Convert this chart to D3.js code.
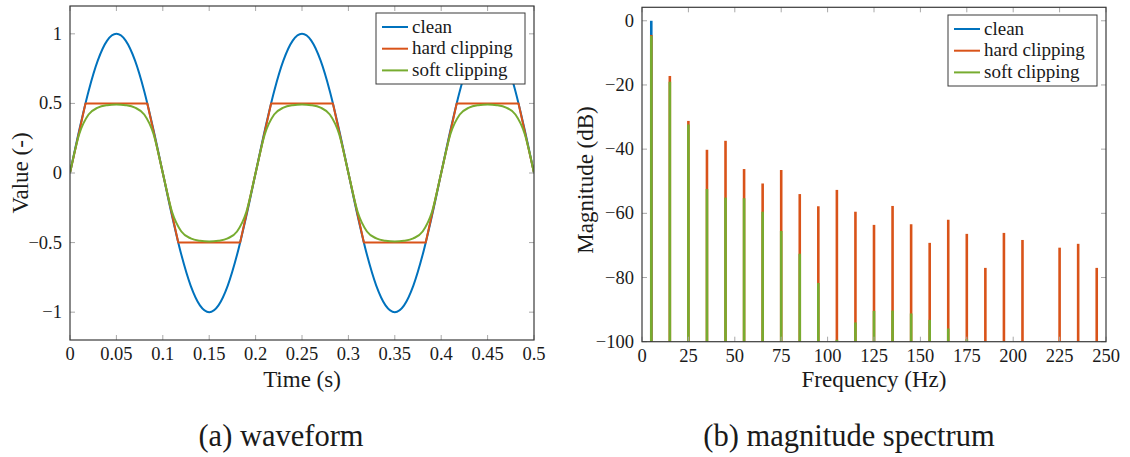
<!DOCTYPE html>
<html>
<head>
<meta charset="utf-8">
<script src="https://cdn.jsdelivr.net/npm/d3@7"></script>
<style>
  body { margin: 0; background: #fff; }
  svg { display: block; }
</style>
</head>
<body>
<svg id="fig" width="1130" height="457"></svg>
<script>
// ---- series ----
const seriesNames = ["clean", "hard clipping", "soft clipping"];
const seriesColors = ["#0072BD", "#D95319", "#77AC30"];

// waveform, sampled every 10 ms
const sampleTimes = [0, 0.01, 0.02, 0.03, 0.04, 0.05, 0.06, 0.07, 0.08, 0.09,
  0.1, 0.11, 0.12, 0.13, 0.14, 0.15, 0.16, 0.17, 0.18, 0.19,
  0.2, 0.21, 0.22, 0.23, 0.24, 0.25, 0.26, 0.27, 0.28, 0.29,
  0.3, 0.31, 0.32, 0.33, 0.34, 0.35, 0.36, 0.37, 0.38, 0.39,
  0.4, 0.41, 0.42, 0.43, 0.44, 0.45, 0.46, 0.47, 0.48, 0.49, 0.5];
const cleanWave = [0, 0.309, 0.588, 0.809, 0.951, 1, 0.951, 0.809, 0.588, 0.309,
  0, -0.309, -0.588, -0.809, -0.951, -1, -0.951, -0.809, -0.588, -0.309,
  0, 0.309, 0.588, 0.809, 0.951, 1, 0.951, 0.809, 0.588, 0.309,
  0, -0.309, -0.588, -0.809, -0.951, -1, -0.951, -0.809, -0.588, -0.309,
  0, 0.309, 0.588, 0.809, 0.951, 1, 0.951, 0.809, 0.588, 0.309, 0];
const softWave = [0, 0.28, 0.42, 0.47, 0.487, 0.492, 0.487, 0.47, 0.42, 0.28,
  0, -0.28, -0.42, -0.47, -0.487, -0.492, -0.487, -0.47, -0.42, -0.28,
  0, 0.28, 0.42, 0.47, 0.487, 0.492, 0.487, 0.47, 0.42, 0.28,
  0, -0.28, -0.42, -0.47, -0.487, -0.492, -0.487, -0.47, -0.42, -0.28,
  0, 0.28, 0.42, 0.47, 0.487, 0.492, 0.487, 0.47, 0.42, 0.28, 0];
// hard clipping corners
const hardTimes = [0, 0.0167, 0.0833, 0.1167, 0.1833, 0.2167, 0.2833, 0.3167, 0.3833, 0.4167, 0.4833, 0.5];
const hardWave = [0, 0.5, 0.5, -0.5, -0.5, 0.5, 0.5, -0.5, -0.5, 0.5, 0.5, 0];

const timeTicks = [0, 0.05, 0.1, 0.15, 0.2, 0.25, 0.3, 0.35, 0.4, 0.45, 0.5];
const valueTicks = [-1, -0.5, 0, 0.5, 1];

// magnitude spectrum at the odd harmonics of 5 Hz (null = below -100 dB)
const freqs = [5, 15, 25, 35, 45, 55, 65, 75, 85, 95, 105, 115, 125,
  135, 145, 155, 165, 175, 185, 195, 205, 215, 225, 235, 245];
const cleanDb = [0, null, null, null, null, null, null, null, null, null, null, null, null,
  null, null, null, null, null, null, null, null, null, null, null, null];
const hardDb = [-4.4, -17.2, -31.2, -40.2, -37.4, -46.2, -50.7, -46.5, -54.0, -57.8, -52.7, -59.5, -63.6,
  -57.7, -63.4, -69.2, -62.0, -66.4, -77.0, -66.1, -68.3, null, -70.7, -69.5, -77.0];
const softDb = [-4.7, -19.0, -32.3, -52.4, -55.1, -55.3, -59.5, -65.5, -72.6, -81.7, -99.4, -94.0, -90.4,
  -90.3, -91.2, -93.2, -95.9, -99.2, null, null, null, null, null, null, null];

const freqTicks = [0, 25, 50, 75, 100, 125, 150, 175, 200, 225, 250];
const dbTicks = [-100, -80, -60, -40, -20, 0];

// ---- drawing helpers ----
const svg = d3.select("#fig");
const FONT = "Liberation Serif";
const minus = s => String(s).replace("-", "\u2212");
const frameColor = "#3a3a3a";
const tickColor = "#a8a8a8";
const tickFont = 18.5, legendFont = 19, labelFont = 23, captionFont = 30.5;

function label(g, str, size) {
  return g.append("text").attr("font-family", FONT).attr("font-size", size)
    .attr("fill", "#1a1a1a").text(str);
}

function frame(g, x, y, xTicks, yTicks, fmtX, fmtY) {
  const [x0, x1] = x.range();
  const [y1, y0] = y.range();
  const tl = 5;
  xTicks.forEach(t => {
    const px = x(t);
    g.append("line").attr("x1", px).attr("x2", px).attr("y1", y1).attr("y2", y1 - tl)
      .attr("stroke", tickColor);
    g.append("line").attr("x1", px).attr("x2", px).attr("y1", y0).attr("y2", y0 + tl)
      .attr("stroke", tickColor);
    label(g, fmtX(t), tickFont).attr("x", px).attr("y", y1 + 20).attr("text-anchor", "middle");
  });
  yTicks.forEach(t => {
    const py = y(t);
    g.append("line").attr("x1", x0).attr("x2", x0 + tl).attr("y1", py).attr("y2", py)
      .attr("stroke", tickColor);
    g.append("line").attr("x1", x1).attr("x2", x1 - tl).attr("y1", py).attr("y2", py)
      .attr("stroke", tickColor);
    label(g, fmtY(t), tickFont).attr("x", x0 - 8).attr("y", py + 6).attr("text-anchor", "end");
  });
  g.append("rect").attr("x", x0).attr("y", y0).attr("width", x1 - x0).attr("height", y1 - y0)
    .attr("fill", "none").attr("stroke", frameColor).attr("stroke-width", 1.2);
}

function legend(g, x, y) {
  const w = 149, h = 71;
  g.append("rect").attr("x", x).attr("y", y).attr("width", w).attr("height", h)
    .attr("fill", "#fff").attr("stroke", frameColor).attr("stroke-width", 1);
  seriesNames.forEach((name, i) => {
    const cy = y + 14 + i * 21.7;
    g.append("line").attr("x1", x + 6).attr("x2", x + 32).attr("y1", cy).attr("y2", cy)
      .attr("stroke", seriesColors[i]).attr("stroke-width", 2);
    label(g, name, legendFont).attr("x", x + 36).attr("y", cy + 5.5);
  });
}

// ---- (a) waveform ----
{
  const g = svg.append("g");
  const x = d3.scaleLinear().domain([0, 0.5]).range([70, 534]);
  const y = d3.scaleLinear().domain([-1.2, 1.2]).range([340, 6]);

  g.append("clipPath").attr("id", "clipA").append("rect")
    .attr("x", 70).attr("y", 6).attr("width", 464).attr("height", 334);

  const smooth = d3.line().x(d => x(d[0])).y(d => y(d[1])).curve(d3.curveMonotoneX);
  const straight = d3.line().x(d => x(d[0])).y(d => y(d[1]));
  const plot = g.append("g").attr("clip-path", "url(#clipA)");

  plot.append("path").datum(d3.zip(sampleTimes, cleanWave)).attr("d", smooth)
    .attr("fill", "none").attr("stroke", seriesColors[0]).attr("stroke-width", 2);
  plot.append("path").datum(d3.zip(hardTimes, hardWave)).attr("d", straight)
    .attr("fill", "none").attr("stroke", seriesColors[1]).attr("stroke-width", 2)
    .attr("stroke-linejoin", "round");
  plot.append("path").datum(d3.zip(sampleTimes, softWave)).attr("d", smooth)
    .attr("fill", "none").attr("stroke", seriesColors[2]).attr("stroke-width", 2);

  frame(g, x, y, timeTicks, valueTicks, t => String(t), t => minus(t));
  legend(g, 376, 13);

  label(g, "Time (s)", labelFont).attr("x", 302).attr("y", 387).attr("text-anchor", "middle");
  label(g, "Value (-)", labelFont).attr("transform", "translate(28,173) rotate(-90)")
    .attr("text-anchor", "middle");
  label(g, "(a) waveform", captionFont).attr("x", 281).attr("y", 446).attr("text-anchor", "middle");
}

// ---- (b) magnitude spectrum ----
{
  const g = svg.append("g");
  const x = d3.scaleLinear().domain([0, 250]).range([642, 1106]);
  const y = d3.scaleLinear().domain([-100, 4.2]).range([341.7, 7.3]);

  g.append("clipPath").attr("id", "clipB").append("rect")
    .attr("x", 642).attr("y", 7.3).attr("width", 464).attr("height", 334.4);
  const plot = g.append("g").attr("clip-path", "url(#clipB)");

  const barW = 2.6;
  [cleanDb, hardDb, softDb].forEach((vals, s) => {
    const pts = freqs.map((f, i) => [f, vals[i]]).filter(d => d[1] !== null);
    plot.selectAll(null).data(pts).join("rect")
      .attr("x", d => x(d[0]) - barW / 2)
      .attr("width", barW)
      .attr("y", d => y(d[1]))
      .attr("height", d => y(-100) - y(d[1]))
      .attr("fill", seriesColors[s]);
  });

  frame(g, x, y, freqTicks, dbTicks, t => String(t), t => minus(t));
  legend(g, 948, 15);

  label(g, "Frequency (Hz)", labelFont).attr("x", 874).attr("y", 387).attr("text-anchor", "middle");
  label(g, "Magnitude (dB)", labelFont).attr("transform", "translate(593,180) rotate(-90)")
    .attr("text-anchor", "middle");
  label(g, "(b) magnitude spectrum", captionFont).attr("x", 849).attr("y", 446)
    .attr("text-anchor", "middle");
}
</script>
</body>
</html>
